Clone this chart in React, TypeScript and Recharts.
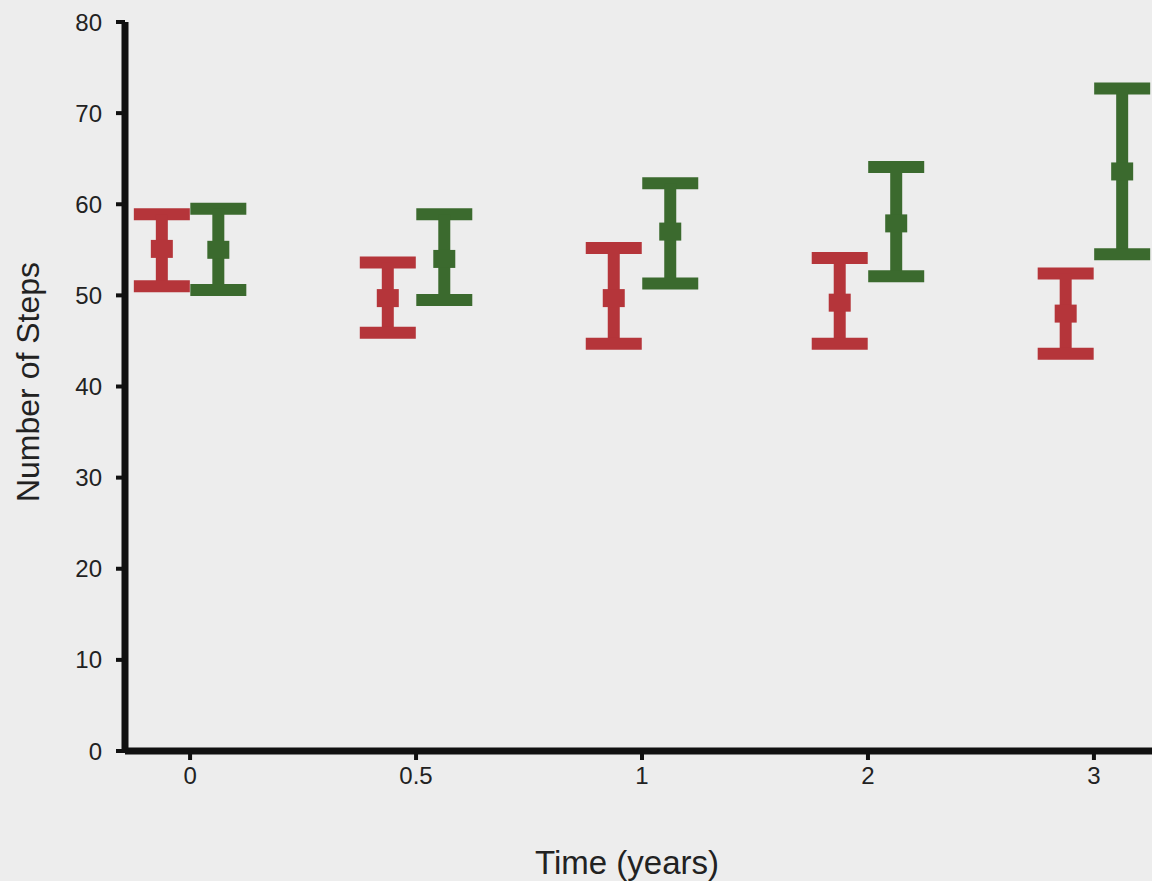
import { ErrorBar, Scatter, ScatterChart, XAxis, YAxis } from "recharts";

const timeLabels = ["0", "0.5", "1", "2", "3"];
const yTicks = [0, 10, 20, 30, 40, 50, 60, 70, 80];

// group A (red)
const redMean = [55.1, 49.7, 49.7, 49.2, 48.0];
const redLow = [51.0, 45.9, 44.7, 44.7, 43.6];
const redHigh = [58.9, 53.6, 55.2, 54.1, 52.4];

// group B (green)
const greenMean = [55.0, 54.0, 57.0, 57.9, 63.6];
const greenLow = [50.6, 49.5, 51.3, 52.1, 54.5];
const greenHigh = [59.5, 58.9, 62.3, 64.1, 72.7];

const RED = "#b5353a";
const GREEN = "#3b6a2e";
const FONT = "'Liberation Sans', Arial, Helvetica, sans-serif";
const SHIFT = 0.125;

const build = (mean: number[], low: number[], high: number[], shift: number) =>
  mean.map((m, i) => ({ x: i + shift, y: m, err: [m - low[i], high[i] - m] }));

const redData = build(redMean, redLow, redHigh, -SHIFT);
const greenData = build(greenMean, greenLow, greenHigh, SHIFT);

const meanBox = (color: string) => (p: any) => (
  <rect x={p.cx - 11} y={p.cy - 9} width={22} height={18} fill={color} />
);

const TICK = { fill: "#222", fontSize: 24, fontFamily: FONT };

export default function App() {
  return (
    <div style={{ position: "absolute", left: 0, top: 0, width: 1152, height: 881, background: "#ededed", overflow: "hidden" }}>
      <ScatterChart width={1152} height={881} margin={{ top: 22, right: 0, left: 0, bottom: 0 }}>
        <XAxis
          type="number"
          dataKey="x"
          domain={[-0.288, 4.257]}
          allowDataOverflow
          ticks={[0, 1, 2, 3, 4]}
          tickFormatter={(v) => timeLabels[v]}
          height={130}
          axisLine={{ stroke: "#111", strokeWidth: 7 }}
          tickLine={{ stroke: "#111", strokeWidth: 4 }}
          tickSize={9}
          tickMargin={7}
          tick={TICK}
          label={{
            content: () => (
              <text x={627} y={862} textAnchor="middle" dominantBaseline="central" fill="#222" fontSize={33} fontFamily={FONT}>
                Time (years)
              </text>
            ),
          }}
        />
        <YAxis
          type="number"
          dataKey="y"
          domain={[0, 80]}
          ticks={yTicks}
          width={125}
          axisLine={{ stroke: "#111", strokeWidth: 7 }}
          tickLine={{ stroke: "#111", strokeWidth: 4 }}
          tickSize={9}
          tickMargin={14}
          tick={TICK}
          label={{
            content: () => (
              <text x={28} y={382} transform="rotate(-90 28 382)" textAnchor="middle" dominantBaseline="central" fill="#222" fontSize={32} fontFamily={FONT}>
                Number of Steps
              </text>
            ),
          }}
        />
        <Scatter data={redData} fill={RED} shape={meanBox(RED)} isAnimationActive={false}>
          <ErrorBar dataKey="err" direction="y" width={28} strokeWidth={12} stroke={RED} isAnimationActive={false} />
        </Scatter>
        <Scatter data={greenData} fill={GREEN} shape={meanBox(GREEN)} isAnimationActive={false}>
          <ErrorBar dataKey="err" direction="y" width={28} strokeWidth={12} stroke={GREEN} isAnimationActive={false} />
        </Scatter>
      </ScatterChart>
    </div>
  );
}
